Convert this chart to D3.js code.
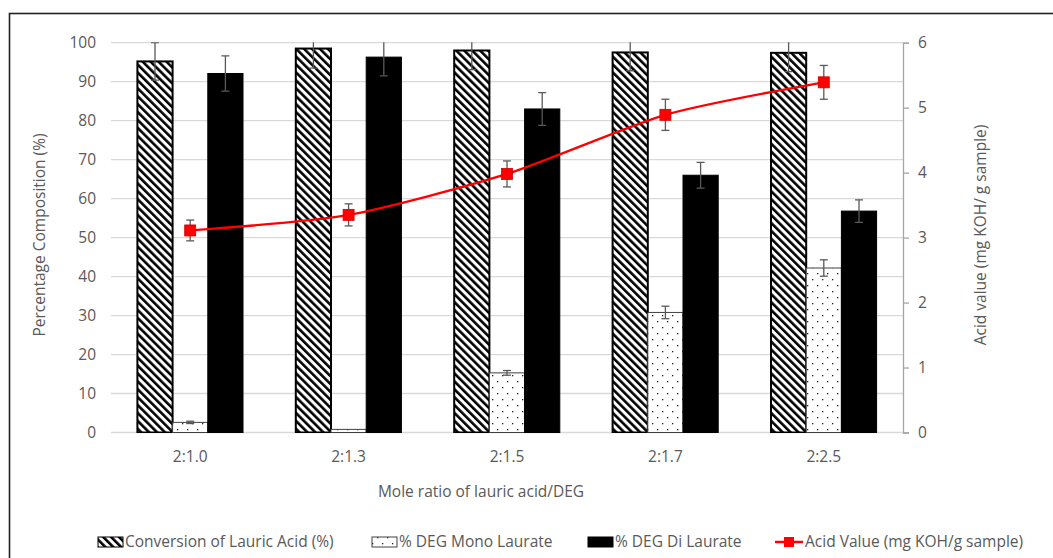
<!DOCTYPE html>
<html>
<head>
<meta charset="utf-8">
<script src="https://cdn.jsdelivr.net/npm/d3@7"></script>
<style>
  body { margin: 0; background: #fff; }
  text { font-family: "Open Sans", sans-serif; fill: #595959; }
</style>
</head>
<body>
<script>
"use strict";

// data
const categories = ['2:1.0', '2:1.3', '2:1.5', '2:1.7', '2:2.5'];
const conversion = [95.2, 98.5, 98.0, 97.5, 97.4];
const conversionErr = [4.8, 5.0, 4.9, 4.7, 4.8];
const monoLaurate = [2.6, 0.8, 15.3, 30.8, 42.2];
const monoErr = [0.3, 0, 0.6, 1.6, 2.1];
const diLaurate = [92.1, 96.3, 83.0, 66.0, 56.8];
const diErr = [4.5, 4.8, 4.2, 3.3, 2.9];
const acidValue = [3.11, 3.35, 3.98, 4.89, 5.39];
const acidErr = [0.16, 0.17, 0.2, 0.24, 0.26];
const leftTicks = [0, 10, 20, 30, 40, 50, 60, 70, 80, 90, 100];
const rightTicks = [0, 1, 2, 3, 4, 5, 6];
const seriesNames = ['Conversion of Lauric Acid (%)', '% DEG Mono Laurate', '% DEG Di Laurate'];

(function() {

let width = 1053;
let height = 558;
let pLeft = 111, pRight = 903, pTop = 42.7, pBottom = 432.5;
let fontSize = '15.5px';

let svg = d3.select('body')
    .append('svg')
    .attr('width', width)
    .attr('height', height);

let defs = svg.append('defs');

// backslash hatching
let hatch = defs.append('pattern')
    .attr('id', 'hatch')
    .attr('patternUnits', 'userSpaceOnUse')
    .attr('width', 5.6)
    .attr('height', 10)
    .attr('patternTransform', 'rotate(-45)');
hatch.append('rect').attr('width', 5.6).attr('height', 10).attr('fill', '#fff');
hatch.append('rect').attr('width', 2.6).attr('height', 10).attr('fill', '#000');

// sparse dots
let dots = defs.append('pattern')
    .attr('id', 'dots')
    .attr('patternUnits', 'userSpaceOnUse')
    .attr('width', 10)
    .attr('height', 12);
dots.append('rect').attr('width', 10).attr('height', 12).attr('fill', '#fff');
dots.append('rect').attr('x', 2).attr('y', 3).attr('width', 1.3).attr('height', 1.3).attr('fill', '#222');
dots.append('rect').attr('x', 7).attr('y', 9).attr('width', 1.3).attr('height', 1.3).attr('fill', '#222');

defs.append('clipPath').attr('id', 'plotclip')
    .append('rect')
    .attr('x', pLeft).attr('y', pTop - 0.5)
    .attr('width', pRight - pLeft).attr('height', pBottom - pTop + 1);

let fills = ['url(#hatch)', 'url(#dots)', '#000'];
let strokes = ['#000', '#404040', '#000'];
let strokeW = [2, 1, 1];

// outer frame
svg.append('rect')
    .attr('x', 9.5).attr('y', 13.5)
    .attr('width', 1100).attr('height', 600)
    .attr('fill', 'none')
    .attr('stroke', '#222')
    .attr('stroke-width', 1.6);

let x0 = d3.scaleBand().domain(categories).range([pLeft, pRight]).padding(0);
let x1 = d3.scaleBand().domain([0, 1, 2]).range([0, x0.bandwidth()]).paddingInner(0).paddingOuter(0.75);
let yL = d3.scaleLinear().domain([0, 100]).range([pBottom, pTop]);
let yR = d3.scaleLinear().domain([0, 6]).range([pBottom, pTop]);

// gridlines
svg.append('g')
    .selectAll('line')
    .data(leftTicks)
    .enter()
    .append('line')
    .attr('x1', pLeft).attr('x2', pRight)
    .attr('y1', function(d) { return yL(d); })
    .attr('y2', function(d) { return yL(d); })
    .attr('stroke', '#d9d9d9')
    .attr('stroke-width', 1.3);

// left axis labels
svg.append('g')
    .selectAll('text')
    .data(leftTicks)
    .enter()
    .append('text')
    .attr('x', 96)
    .attr('y', function(d) { return yL(d); })
    .attr('dy', '0.35em')
    .attr('text-anchor', 'end')
    .style('font-size', fontSize)
    .text(function(d) { return d; });

// right axis
let axisR = svg.append('g')
    .attr('transform', 'translate(' + pRight + ',0)')
    .call(d3.axisRight(yR).tickValues(rightTicks).tickFormat(d3.format('d')).tickSize(6).tickPadding(9));
axisR.select('.domain').attr('stroke', '#a6a6a6').attr('stroke-width', 1.3);
axisR.selectAll('.tick line').attr('stroke', '#a6a6a6').attr('stroke-width', 1.3);
axisR.selectAll('.tick text')
    .attr('fill', '#595959')
    .style('font-family', '"Open Sans", sans-serif')
    .style('font-size', fontSize);

// x labels
svg.append('g')
    .selectAll('text')
    .data(categories)
    .enter()
    .append('text')
    .attr('x', function(d) { return x0(d) + x0.bandwidth() / 2; })
    .attr('y', 462)
    .attr('text-anchor', 'middle')
    .style('font-size', fontSize)
    .text(function(d) { return d; });

// bars
let allSeries = [conversion, monoLaurate, diLaurate];
let allErr = [conversionErr, monoErr, diErr];
let plot = svg.append('g').attr('clip-path', 'url(#plotclip)');

allSeries.forEach(function(vals, s) {
    plot.append('g')
        .selectAll('rect')
        .data(vals)
        .enter()
        .append('rect')
        .attr('x', function(d, i) { return x0(categories[i]) + x1(s); })
        .attr('y', function(d) { return yL(d); })
        .attr('width', x1.bandwidth())
        .attr('height', function(d) { return pBottom - yL(d); })
        .attr('fill', fills[s])
        .attr('stroke', strokes[s])
        .attr('stroke-width', strokeW[s]);
});

function errorBars(g, cx, lo, hi, cap) {
    g.append('line')
        .attr('x1', cx).attr('x2', cx)
        .attr('y1', lo).attr('y2', hi);
    [lo, hi].forEach(function(yy) {
        g.append('line')
            .attr('x1', cx - cap).attr('x2', cx + cap)
            .attr('y1', yy).attr('y2', yy);
    });
}

let errG = plot.append('g').attr('stroke', '#595959').attr('stroke-width', 1.3);
allSeries.forEach(function(vals, s) {
    vals.forEach(function(v, i) {
        if (allErr[s][i] <= 0) return;
        let cx = x0(categories[i]) + x1(s) + x1.bandwidth() / 2;
        errorBars(errG, cx, yL(v - allErr[s][i]), yL(v + allErr[s][i]), 4);
    });
});

// acid value line (Excel-style smoothed)
let cxLine = function(d, i) { return x0(categories[i]) + x0.bandwidth() / 2; };
let line = d3.line()
    .x(cxLine)
    .y(function(d) { return yR(d); })
    .curve(d3.curveCardinal.tension(0.3));

svg.append('path')
    .datum(acidValue)
    .attr('d', line)
    .attr('fill', 'none')
    .attr('stroke', '#ff0000')
    .attr('stroke-width', 2.3);

let acidErrG = svg.append('g').attr('stroke', '#595959').attr('stroke-width', 1.3);
acidValue.forEach(function(v, i) {
    errorBars(acidErrG, cxLine(v, i), yR(v - acidErr[i]), yR(v + acidErr[i]), 4);
});

svg.append('g')
    .selectAll('rect')
    .data(acidValue)
    .enter()
    .append('rect')
    .attr('x', function(d, i) { return cxLine(d, i) - 5.5; })
    .attr('y', function(d) { return yR(d) - 5.5; })
    .attr('width', 11).attr('height', 11)
    .attr('fill', '#ff0000')
    .attr('stroke', '#d00000')
    .attr('stroke-width', 0.8);

// axis titles
svg.append('text')
    .attr('transform', 'translate(45,235) rotate(-90)')
    .attr('text-anchor', 'middle')
    .style('font-size', fontSize)
    .text('Percentage Composition (%)');

svg.append('text')
    .attr('transform', 'translate(986,235) rotate(-90)')
    .attr('text-anchor', 'middle')
    .style('font-size', fontSize)
    .text('Acid value (mg KOH/ g sample)');

svg.append('text')
    .attr('x', 481)
    .attr('y', 497)
    .attr('text-anchor', 'middle')
    .style('font-size', fontSize)
    .text('Mole ratio of lauric acid/DEG');

// legend
let legendY = 542;
let legendX = [98, 372, 588];
seriesNames.forEach(function(name, s) {
    svg.append('rect')
        .attr('x', legendX[s]).attr('y', legendY - 5)
        .attr('width', 25).attr('height', 10)
        .attr('fill', fills[s])
        .attr('stroke', strokes[s])
        .attr('stroke-width', 1);
    svg.append('text')
        .attr('x', legendX[s] + 27)
        .attr('y', legendY)
        .attr('dy', '0.35em')
        .style('font-size', fontSize)
        .text(name);
});
svg.append('line')
    .attr('x1', 775).attr('x2', 803)
    .attr('y1', legendY).attr('y2', legendY)
    .attr('stroke', '#ff0000').attr('stroke-width', 2.5);
svg.append('rect')
    .attr('x', 784).attr('y', legendY - 5)
    .attr('width', 10).attr('height', 10)
    .attr('fill', '#ff0000');
svg.append('text')
    .attr('x', 805)
    .attr('y', legendY)
    .attr('dy', '0.35em')
    .style('font-size', fontSize)
    .text('Acid Value (mg KOH/g sample)');

})();
</script>
</body>
</html>
